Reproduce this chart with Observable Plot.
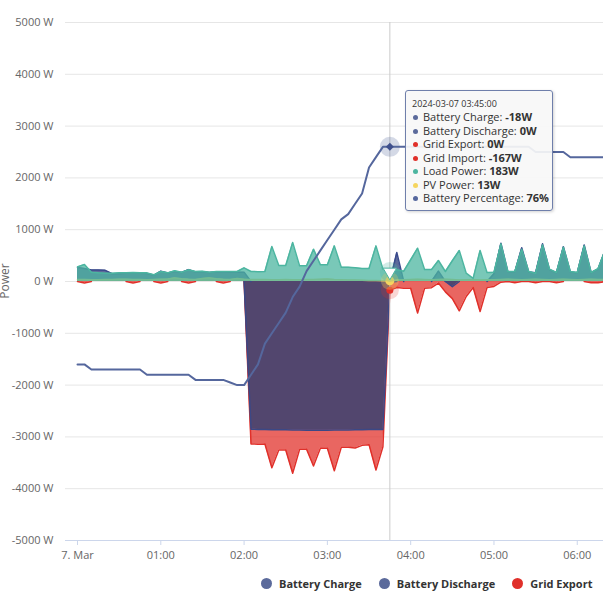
<!DOCTYPE html>
<html><head><meta charset="utf-8">
<script src="https://cdn.jsdelivr.net/npm/d3@7"></script>
<script src="https://cdn.jsdelivr.net/npm/@observablehq/plot@0.6"></script>
<style>
body{margin:0;background:#fff;font-family:"Open Sans",sans-serif;}
#wrap{position:relative;width:603px;height:608px;overflow:hidden;background:#fff;}
#legend{position:absolute;top:568px;left:0;width:603px;height:40px;overflow:hidden;}
#legend .row{position:absolute;left:261px;top:8px;display:flex;white-space:nowrap;align-items:center;}
#legend .item{display:flex;align-items:center;margin-right:17px;font-size:11px;font-weight:700;color:#333;}
#legend .sw{width:11px;height:11px;border-radius:50%;margin-right:7px;flex:none;}
#tip{position:absolute;left:405px;top:90px;width:134px;height:107px;padding:6px 6px 6px 6px;
  background:rgba(247,247,247,0.92);border:1px solid #6f7fab;border-radius:3px;
  box-shadow:1px 1px 3px rgba(0,0,0,0.18);font-size:11px;color:#333;line-height:13.5px;white-space:nowrap;}
#tip .date{font-size:9px;line-height:13px;}
#tip .dot{display:inline-block;width:5px;height:5px;border-radius:50%;margin:0 5px 1px 1px;vertical-align:middle;}
</style></head><body><div id="wrap"></div>
<script>
// ---- data (5-minute samples from 2024-03-07 00:00 UTC) ----
const startISO = "2024-03-07T00:00:00Z";
const stepMinutes = 5;
const seriesNames = ["Battery Charge","Battery Discharge","Grid Export","Grid Import","Load Power","PV Power","Battery Percentage"];
const seriesColors = ["#5b6a9b","#5b6a9b","#e0302a","#e0302a","#4cb5a0","#f5d55f","#55679d"];

const batteryCharge = [0,0,0,0,0,0,0,0,0,0,0,0,0,0,0,0,0,0,0,0,0,0,0,0,0,
  -2850,-2855,-2855,-2860,-2860,-2860,-2865,-2865,-2870,-2870,-2870,-2870,-2868,-2865,-2865,-2862,-2860,-2858,-2855,-2855,
  -18,0,0,0,0,0,0,0,0,-100,0,0,0,0,0,0,
  0,0,0,0,0,0,0,0,0,0,0,0,0,0,0,0];
const batteryDischarge = [270,250,220,220,215,150,150,160,165,160,155,120,200,165,195,175,230,185,190,175,185,185,180,180,180,
  0,0,0,0,0,0,0,0,0,0,0,0,0,0,0,0,0,0,0,0,0,
  560,0,0,0,0,0,200,0,0,0,0,0,0,0,150,
  740,190,185,650,185,170,727,230,170,670,185,170,705,170,240,600];
const gridExport = [0,0,0,0,0,0,0,0,0,0,0,0,0,0,0,0,0,0,0,0,0,0,0,0,0,
  0,0,0,0,0,0,0,0,0,0,0,0,0,0,0,0,0,0,0,0,0,
  0,0,0,0,0,0,0,0,0,0,0,0,0,0,0,
  0,0,0,0,0,0,0,0,0,0,0,0,0,0,0,0];
const gridImport = [0,-30,0,0,0,0,0,0,-30,0,0,0,-30,0,0,0,-30,0,0,0,0,-30,0,0,0,
  -3137,-3140,-3137,-3594,-3253,-3253,-3703,-3240,-3240,-3562,-3214,-3220,-3652,-3200,-3200,-3214,-3163,-3150,-3640,-3190,-167,
  -116,-130,-130,-610,-130,-120,-30,-200,-330,-566,-290,-116,-579,-116,-96,
  -13,0,-25,0,0,-25,0,0,-25,0,0,0,0,-25,-25,0];
const loadPower = [283,328,180,167,161,161,167,170,175,170,167,129,193,167,206,180,225,193,200,180,193,193,193,193,264,
  193,190,193,675,309,309,752,302,302,624,321,321,688,276,276,265,250,250,688,238,183,
  225,200,420,643,230,230,405,193,400,598,160,60,598,174,180,
  727,193,193,624,193,160,707,238,174,662,193,174,688,174,250,600];
const pvPower = [40,38,35,35,38,40,42,45,40,38,36,40,45,50,70,55,45,40,60,70,55,45,40,60,45,
  40,40,38,35,35,40,35,35,38,40,45,50,40,35,30,30,25,20,18,15,13,
  30,35,40,45,40,35,40,45,40,30,35,40,30,35,35,
  40,45,40,35,40,45,40,35,40,45,40,35,40,45,40,40];
const batteryPercentage = [34,34,33,33,33,33,33,33,33,33,32,32,32,32,32,32,32,31,31,31,31,31,30.5,30,30,
  32,34,38,40,42,44,47,49,52,54,56,58,60,62,63,65,67,72,74,76,
  76,76,76,76,76,76,76,76,76,76,76,76,76,76,76,76,76,76,76,76,76,
  75,75,75,75,75,74,74,74,74,74,74];
const hoverIndex = 45; // 03:45
const yTicks = [-5000,-4000,-3000,-2000,-1000,0,1000,2000,3000,4000,5000];
const xTickLabels = ["7. Mar","01:00","02:00","03:00","04:00","05:00","06:00"];

// ---- build ----
const t0 = new Date(startISO).getTime();
const MIN = 60000;
const times = loadPower.map((_, i) => new Date(t0 + i * stepMinutes * MIN));
const rows = times.map((time, i) => ({
  time, charge: batteryCharge[i], discharge: batteryDischarge[i], exp: gridExport[i],
  imp: gridImport[i], load: loadPower[i], pv: pvPower[i], pct: batteryPercentage[i]
}));
// secondary axis: 0–100 % spans the same height as -5000..5000 W
const pctToW = p => -5000 + p * 100;
// do not stroke the flat zero runs (Highcharts strokes only the data line)
const gapZeros = arr => arr.map((v, i) => (v === 0 && (arr[i-1] ?? 0) === 0 && (arr[i+1] ?? 0) === 0) ? NaN : v);
const hourTicks = xTickLabels.map((_, i) => new Date(t0 + i * 60 * MIN));
const hv = [rows[hoverIndex]];

const chart = Plot.plot({
  width: 603, height: 568,
  marginLeft: 65, marginRight: 0, marginTop: 22, marginBottom: 28,
  style: {fontFamily: "Open Sans", fontSize: "11px", background: "#fff"},
  x: {type: "utc", domain: [new Date(t0 - 8.65 * MIN), new Date(t0 + 378.9 * MIN)]},
  y: {domain: [-5000, 5000]},
  marks: [
    Plot.gridY(yTicks, {stroke: "#e6e6e6", strokeOpacity: 1}),
    Plot.ruleY([-5000], {stroke: "#ccd6eb"}),
    Plot.axisY(yTicks, {tickSize: 0, tickPadding: 12, tickFormat: d => `${d} W`, fill: "#666", fontSize: 11, label: null}),
    Plot.axisX(hourTicks, {tickSize: 5, tickPadding: 6, stroke: "#ccd6eb", fill: "#666", fontSize: 11, label: null,
      tickFormat: d => xTickLabels[hourTicks.findIndex(t => +t === +d)]}),
    // grid import (negative)
    Plot.areaY(rows, {x: "time", y: "imp", fill: "#e2332c", fillOpacity: 0.75, clip: true}),
    Plot.lineY(rows, {x: "time", y: gapZeros(gridImport), stroke: "#e0302a", strokeWidth: 1.5, clip: true}),
    // battery charge (negative)
    Plot.areaY(rows, {x: "time", y: "charge", fill: "#52466e", fillOpacity: 1, clip: true}),
    Plot.lineY(rows, {x: "time", y: gapZeros(batteryCharge), stroke: "#3b4886", strokeWidth: 1.5, clip: true}),
    // battery discharge
    Plot.areaY(rows, {x: "time", y: "discharge", fill: "#2f3f7e", fillOpacity: 0.78, clip: true}),
    Plot.lineY(rows, {x: "time", y: gapZeros(batteryDischarge), stroke: "#3a4a8c", strokeWidth: 1.5, clip: true}),
    // grid export
    Plot.lineY(rows, {x: "time", y: gapZeros(gridExport), stroke: "#e0302a", strokeWidth: 1.5, clip: true}),
    // PV
    Plot.areaY(rows, {x: "time", y: "pv", fill: "#f5d55f", fillOpacity: 0.75, clip: true}),
    Plot.lineY(rows, {x: "time", y: "pv", stroke: "#e8cf6a", strokeWidth: 1.5, clip: true}),
    // load
    Plot.areaY(rows, {x: "time", y: "load", fill: "#4cb5a0", fillOpacity: 0.75, clip: true}),
    Plot.lineY(rows, {x: "time", y: "load", stroke: "#4cb5a0", strokeWidth: 1.5, clip: true}),
    // crosshair
    Plot.ruleX([rows[hoverIndex].time], {stroke: "#cccccc", strokeWidth: 1}),
    // battery percentage
    Plot.lineY(rows, {x: "time", y: d => pctToW(d.pct), stroke: "#55679d", strokeWidth: 2, clip: true}),
    // hover markers
    Plot.dot(hv, {x: "time", y: "imp", r: 9, fill: "#e0302a", fillOpacity: 0.2}),
    Plot.dot(hv, {x: "time", y: "imp", r: 3.5, fill: "#e0302a"}),
    Plot.dot(hv, {x: "time", y: "pv", r: 9, fill: "#f5d55f", fillOpacity: 0.3}),
    Plot.dot(hv, {x: "time", y: "pv", r: 4.5, fill: "#f5d55f"}),
    Plot.dot(hv, {x: "time", y: "load", r: 10, fill: "#4cb5a0", fillOpacity: 0.25}),
    Plot.dot(hv, {x: "time", y: "load", r: 5, symbol: "triangle", rotate: 180, fill: "#fff", stroke: "#4cb5a0", strokeWidth: 1}),
    Plot.dot(hv, {x: "time", y: d => pctToW(d.pct), r: 10, fill: "#55679d", fillOpacity: 0.25}),
    Plot.dot(hv, {x: "time", y: d => pctToW(d.pct), r: 3.6, symbol: "diamond2", fill: "#3e4f8c"})
  ]
});

const svg = d3.select(chart);
svg.append("text")
  .attr("transform", "translate(9,281) rotate(-90)")
  .attr("text-anchor", "middle")
  .attr("fill", "#666").attr("font-size", 12).attr("font-family", "Open Sans")
  .text("Power");

const wrap = document.getElementById("wrap");
wrap.appendChild(chart);

// legend
const legend = document.createElement("div");
legend.id = "legend";
const row = document.createElement("div");
row.className = "row";
seriesNames.forEach((n, i) => {
  const it = document.createElement("div");
  it.className = "item";
  it.innerHTML = `<span class="sw" style="background:${seriesColors[i]}"></span>${n}`;
  row.appendChild(it);
});
legend.appendChild(row);
wrap.appendChild(legend);

// tooltip
const fmtDate = d3.utcFormat("%Y-%m-%d %H:%M:%S");
const hvVals = [batteryCharge, batteryDischarge, gridExport, gridImport, loadPower, pvPower].map(a => a[hoverIndex]);
const tip = document.createElement("div");
tip.id = "tip";
let html = `<div class="date">${fmtDate(times[hoverIndex])}</div>`;
seriesNames.forEach((n, i) => {
  const v = i < 6 ? `${hvVals[i]}W` : `${batteryPercentage[hoverIndex]}%`;
  html += `<div><span class="dot" style="background:${seriesColors[i]}"></span>${n}: <b>${v}</b></div>`;
});
tip.innerHTML = html;
wrap.appendChild(tip);
</script></body></html>
